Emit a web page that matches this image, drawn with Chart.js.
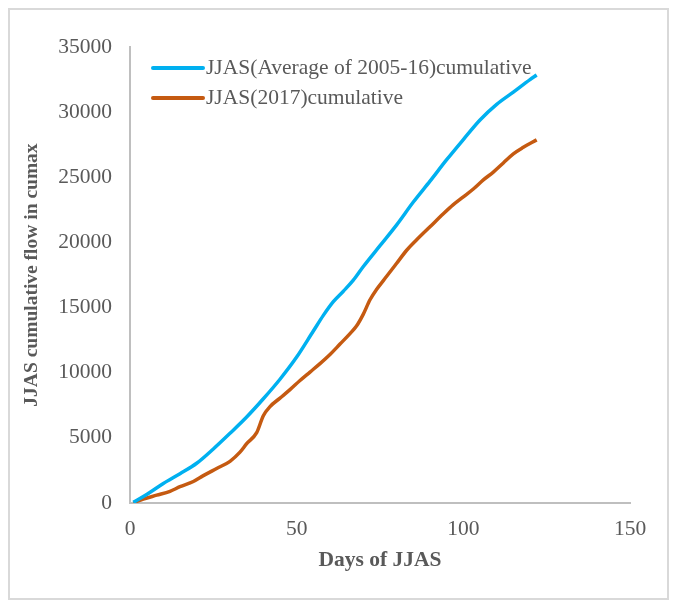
<!DOCTYPE html>
<html>
<head>
<meta charset="utf-8">
<title>JJAS cumulative flow</title>
<script src="https://cdn.jsdelivr.net/npm/chart.js@4.4.1/dist/chart.umd.min.js"></script>
<style>
    html, body { margin: 0; padding: 0; background: #fff; overflow: hidden; }
    #wrap { position: relative; width: 676px; height: 602px; }
    #frame { position: absolute; left: 8px; top: 8px; width: 657px; height: 588px;
             border: 2px solid #d9d9d9; pointer-events: none; }
</style>
</head>
<body>
<div id="wrap">
    <canvas id="flowChart"></canvas>
    <div id="frame"></div>
</div>
<script>
// Values
const avgDays = [1, 5, 10, 15, 20, 25, 30, 35, 40, 45, 50, 55, 58, 61, 64, 67, 70, 75, 80, 85, 90, 95, 100, 105, 110, 115, 120, 122];
const avgFlow = [50, 650, 1500, 2250, 3050, 4150, 5350, 6600, 8000, 9500, 11200, 13200, 14400, 15450, 16250, 17100, 18150, 19750, 21350, 23100, 24700, 26350, 27900, 29400, 30600, 31540, 32500, 32850];

const y2017Days = [1, 4, 8, 12, 15, 19, 22, 26, 30, 33, 35, 38, 40, 42, 45, 48, 51, 54, 57, 60, 63, 66, 68, 70, 72, 74, 77, 80, 83, 86, 90, 94, 97, 100, 103, 106, 109, 112, 115, 118, 122];
const y2017Flow = [30, 300, 600, 900, 1250, 1650, 2100, 2650, 3200, 3900, 4550, 5400, 6700, 7400, 8050, 8700, 9400, 10050, 10700, 11400, 12200, 13000, 13600, 14500, 15600, 16400, 17400, 18400, 19400, 20200, 21200, 22200, 22900, 23500, 24100, 24800, 25400, 26100, 26800, 27300, 27870];

const seriesLabels = ['JJAS(Average of 2005-16)cumulative', 'JJAS(2017)cumulative'];
const xTicks = [0, 50, 100, 150];
const yTicks = [0, 5000, 10000, 15000, 20000, 25000, 30000, 35000];

const textColor = '#595959';
const serif = "'Liberation Serif', 'Times New Roman', serif";
const fontSize = 21.5;

const toPoints = (xs, ys) => xs.map((x, i) => ({ x: x, y: ys[i] }));

// Legend drawn inside the plot, top left
const insideLegend = {
    id: 'insideLegend',
    afterDraw(chart) {
        const ctx = chart.ctx;
        ctx.save();
        ctx.font = fontSize + 'px ' + serif;
        ctx.textBaseline = 'middle';
        chart.data.datasets.forEach((ds, i) => {
            const y = 68 + i * 30;
            ctx.strokeStyle = ds.borderColor;
            ctx.lineWidth = 4;
            ctx.lineCap = 'round';
            ctx.beginPath();
            ctx.moveTo(153, y);
            ctx.lineTo(203, y);
            ctx.stroke();
            ctx.fillStyle = textColor;
            ctx.fillText(ds.label, 206, y);
        });
        ctx.restore();
    }
};

const ctx = document.getElementById('flowChart').getContext('2d');
new Chart(ctx, {
    type: 'line',
    data: {
        datasets: [{
            label: seriesLabels[0],
            data: toPoints(avgDays, avgFlow),
            borderColor: '#00b0f0',
            borderWidth: 3.5,
            pointRadius: 0,
            cubicInterpolationMode: 'monotone'
        }, {
            label: seriesLabels[1],
            data: toPoints(y2017Days, y2017Flow),
            borderColor: '#c55a11',
            borderWidth: 3.5,
            pointRadius: 0,
            cubicInterpolationMode: 'monotone'
        }]
    },
    options: {
        responsive: true,
        maintainAspectRatio: false,
        animation: false,
        layout: { padding: { left: 0, right: 46, top: 47, bottom: 0 } },
        plugins: {
            legend: { display: false },
            tooltip: { enabled: false }
        },
        scales: {
            x: {
                type: 'linear',
                min: 0,
                max: 150,
                afterFit: (s) => { s.height = 99; },
                afterBuildTicks: (s) => { s.ticks = xTicks.map(v => ({ value: v })); },
                grid: { display: false, drawTicks: false },
                border: { color: '#bfbfbf', width: 2 },
                ticks: {
                    color: textColor,
                    padding: 13,
                    font: { family: serif, size: fontSize },
                    callback: (v) => String(v)
                },
                title: {
                    display: true,
                    text: 'Days of JJAS',
                    color: textColor,
                    padding: { top: 0, bottom: 29 },
                    font: { family: serif, size: fontSize, weight: 'bold' }
                }
            },
            y: {
                min: 0,
                max: 35000,
                afterFit: (s) => { s.width = 130; },
                afterBuildTicks: (s) => { s.ticks = yTicks.map(v => ({ value: v })); },
                grid: { display: false, drawTicks: false },
                border: { color: '#bfbfbf', width: 2 },
                ticks: {
                    color: textColor,
                    padding: 18,
                    font: { family: serif, size: fontSize },
                    callback: (v) => String(v)
                },
                title: {
                    display: true,
                    text: 'JJAS cumulative flow in cumax',
                    color: textColor,
                    padding: { top: 20, bottom: 0 },
                    font: { family: serif, size: 19.5, weight: 'bold' }
                }
            }
        }
    },
    plugins: [insideLegend]
});
</script>
</body>
</html>
